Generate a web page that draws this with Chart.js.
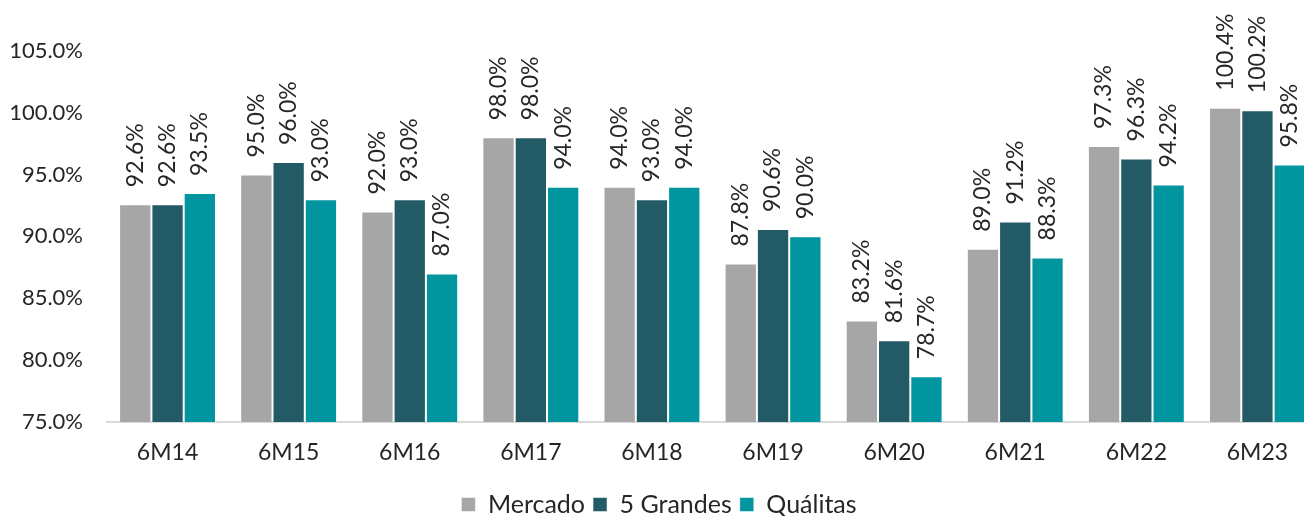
<!DOCTYPE html>
<html>
<head>
<meta charset="utf-8">
<script src="https://cdn.jsdelivr.net/npm/chart.js@4.4.1/dist/chart.umd.min.js"></script>
<style>
  html, body { margin: 0; padding: 0; background: #fff; overflow: hidden; }
  #wrap { width: 1318px; height: 516px; position: relative; }
</style>
</head>
<body>
<div id="wrap"><canvas id="chart"></canvas></div>
<script>
// data
var periods = ["6M14", "6M15", "6M16", "6M17", "6M18", "6M19", "6M20", "6M21", "6M22", "6M23"];
var mercado = [92.6, 95.0, 92.0, 98.0, 94.0, 87.8, 83.2, 89.0, 97.3, 100.4];
var grandes = [92.6, 96.0, 93.0, 98.0, 93.0, 90.6, 81.6, 91.2, 96.3, 100.2];
var qualitas = [93.5, 93.0, 87.0, 94.0, 94.0, 90.0, 78.7, 88.3, 94.2, 95.8];
var yTicks = [75, 80, 85, 90, 95, 100, 105];

var FONT = "Lato";
var TXT = "#262626";

// vertical value labels above every bar
var barLabels = {
    id: 'barLabels',
    afterDatasetsDraw: function (chart) {
        var ctx = chart.ctx;
        ctx.save();
        ctx.font = "23px " + FONT;
        ctx.fillStyle = TXT;
        ctx.textAlign = 'left';
        ctx.textBaseline = 'middle';
        chart.data.datasets.forEach(function (ds, i) {
            chart.getDatasetMeta(i).data.forEach(function (bar, j) {
                ctx.save();
                ctx.translate(bar.x, bar.y - 17);
                ctx.rotate(-Math.PI / 2);
                ctx.fillText(ds.data[j].toFixed(1) + "%", 0, 0);
                ctx.restore();
            });
        });
        ctx.restore();
    }
};

var ctx = document.getElementById("chart").getContext('2d');
var chart = new Chart(ctx, {
    type: 'bar',
    data: {
        labels: periods,
        datasets: [
            { label: "Mercado", data: mercado, backgroundColor: "#A6A6A6", borderColor: "rgba(255,255,255,0.5)", borderWidth: 1 },
            { label: "5 Grandes", data: grandes, backgroundColor: "#225A66", borderColor: "rgba(255,255,255,0.5)", borderWidth: 1 },
            { label: "Quálitas", data: qualitas, backgroundColor: "#00959F", borderColor: "rgba(255,255,255,0.5)", borderWidth: 1 }
        ]
    },
    options: {
        responsive: true,
        maintainAspectRatio: false,
        animation: false,
        layout: { padding: { top: 0, left: 0, right: 0, bottom: -11 } },
        datasets: { bar: { categoryPercentage: 0.8, barPercentage: 1.0 } },
        scales: {
            x: {
                grid: { display: false, drawTicks: false },
                border: { display: true, color: "#D9D9D9", width: 2 },
                ticks: { color: TXT, font: { family: FONT, size: 23 }, padding: 17 },
                afterFit: function (s) { s.height = 62; }
            },
            y: {
                min: 75,
                max: 109.1,
                grid: { display: false, drawTicks: false },
                border: { display: false },
                ticks: {
                    color: TXT,
                    font: { family: FONT, size: 22 },
                    padding: 24,
                    callback: function (v) { return v.toFixed(1) + "%"; }
                },
                afterBuildTicks: function (s) {
                    s.ticks = yTicks.map(function (v) { return { value: v }; });
                },
                afterFit: function (s) { s.width = 107; s.paddingTop = 0; }
            }
        },
        plugins: {
            legend: {
                position: 'bottom',
                labels: {
                    color: TXT,
                    font: { family: FONT, size: 25 },
                    boxWidth: 14,
                    boxHeight: 14,
                    padding: 8
                }
            },
            tooltip: { enabled: false }
        }
    },
    plugins: [barLabels]
});
</script>
</body>
</html>
